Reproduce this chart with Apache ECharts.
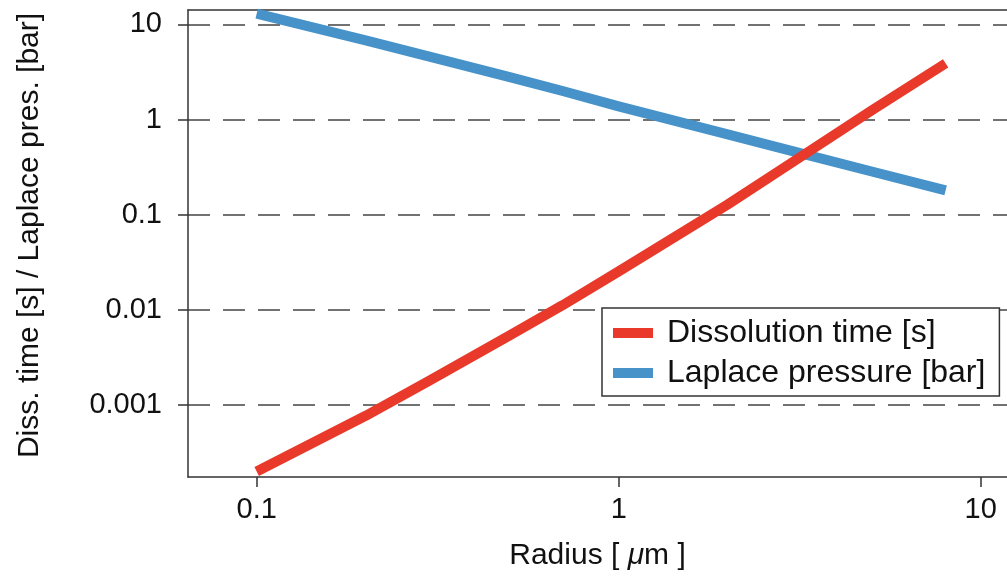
<!DOCTYPE html>
<html>
<head>
<meta charset="utf-8">
<script src="https://cdn.jsdelivr.net/npm/echarts@6/dist/echarts.min.js"></script>
<style>
  html, body { margin: 0; padding: 0; background: #fff; }
  #chart { width: 1007px; height: 578px; }
</style>
</head>
<body>
<div id="chart"></div>
<script>
// ---- data ----
const radius = [0.1, 0.2, 0.3, 0.5, 0.7, 1, 2, 3, 5, 8];
const dissolutionTime = [0.0002, 0.00077, 0.0018, 0.0054, 0.0112, 0.0254, 0.128, 0.351, 1.25, 3.9];
const laplacePressure = [13, 6.8, 4.6, 2.8, 2.0, 1.38, 0.70, 0.47, 0.285, 0.18];
const xTickValues = [0.1, 1, 10];
const xTickLabels = ['0.1', '1', '10'];
const yTickValues = [0.001, 0.01, 0.1, 1, 10];
const yTickLabels = ['0.001', '0.01', '0.1', '1', '10'];
const seriesNames = ['Dissolution time [s]', 'Laplace pressure [bar]'];

function fmt(values, labels) {
  return function (v) {
    for (let i = 0; i < values.length; i++) {
      if (Math.abs(Math.log10(v) - Math.log10(values[i])) < 1e-6) return labels[i];
    }
    return '';
  };
}

const FONT = 'Liberation Sans, Arial, Helvetica, sans-serif';
const X_MIN = 0.0646, X_MAX = 11.82;
const chart = echarts.init(document.getElementById('chart'), null, { renderer: 'canvas' });

chart.setOption({
  animation: false,
  backgroundColor: '#ffffff',
  grid: {
    left: 188, top: 10, right: 0, bottom: 101,
    show: false,
    containLabel: false
  },
  xAxis: [{
    type: 'log',
    logBase: 10,
    min: X_MIN,
    max: X_MAX,
    name: 'Radius [ {i|μ}m ]',
    nameLocation: 'middle',
    nameGap: 64,
    nameTextStyle: {
      fontFamily: FONT, fontSize: 30, color: '#111',
      rich: { i: { fontFamily: FONT, fontSize: 30, fontStyle: 'italic', color: '#111' } }
    },
    axisLine: { show: true, lineStyle: { color: '#333', width: 1.5 } },
    axisTick: { show: true, inside: false, length: 10, customValues: xTickValues, lineStyle: { color: '#333', width: 1.5 } },
    axisLabel: { show: true, customValues: xTickValues, margin: 18, fontFamily: FONT, fontSize: 29, color: '#111', formatter: fmt(xTickValues, xTickLabels) },
    splitLine: { show: false },
    minorTick: { show: false },
    minorSplitLine: { show: false }
  }, {
    type: 'log',
    logBase: 10,
    position: 'top',
    min: X_MIN,
    max: X_MAX,
    axisLine: { show: true, onZero: false, lineStyle: { color: '#333', width: 1.5 } },
    axisTick: { show: false },
    axisLabel: { show: false },
    splitLine: { show: false },
    minorTick: { show: false },
    minorSplitLine: { show: false }
  }],
  yAxis: {
    type: 'log',
    logBase: 10,
    min: 0.000175,
    max: 14.2,
    name: 'Diss. time [s] / Laplace pres. [bar]',
    nameLocation: 'middle',
    nameGap: 143,
    nameTextStyle: { fontFamily: FONT, fontSize: 30, color: '#111', padding: [0, 0, 0, 16] },
    axisLine: { show: true, lineStyle: { color: '#333', width: 1.5 } },
    axisTick: { show: true, inside: false, length: 10, customValues: yTickValues, lineStyle: { color: '#333', width: 1.5 } },
    axisLabel: { show: true, customValues: yTickValues, margin: 26, fontFamily: FONT, fontSize: 29, color: '#111', formatter: fmt(yTickValues, yTickLabels) },
    splitLine: { show: true, lineStyle: { color: '#444', width: 1.5, type: [22, 13] } },
    minorTick: { show: false },
    minorSplitLine: { show: false }
  },
  legend: {
    show: true,
    left: 602,
    top: 308,
    orient: 'vertical',
    backgroundColor: '#ffffff',
    borderColor: '#333',
    borderWidth: 1.5,
    borderRadius: 0,
    padding: [9, 14, 7, 11],
    itemGap: 8,
    itemWidth: 40,
    itemHeight: 10,
    icon: 'rect',
    data: seriesNames,
    textStyle: { fontFamily: FONT, fontSize: 32, color: '#111', padding: [0, 0, 0, 9] }
  },
  series: [
    {
      name: seriesNames[0],
      type: 'line',
      xAxisIndex: 0,
      data: radius.map((r, i) => [r, dissolutionTime[i]]),
      showSymbol: false,
      symbol: 'none',
      color: '#E8392A',
      lineStyle: { color: '#E8392A', width: 10, cap: 'butt', join: 'round' },
      z: 3
    },
    {
      name: seriesNames[1],
      type: 'line',
      xAxisIndex: 0,
      data: radius.map((r, i) => [r, laplacePressure[i]]),
      showSymbol: false,
      symbol: 'none',
      color: '#4692C9',
      lineStyle: { color: '#4692C9', width: 10, cap: 'butt', join: 'round' },
      z: 2
    }
  ]
});
</script>
</body>
</html>
